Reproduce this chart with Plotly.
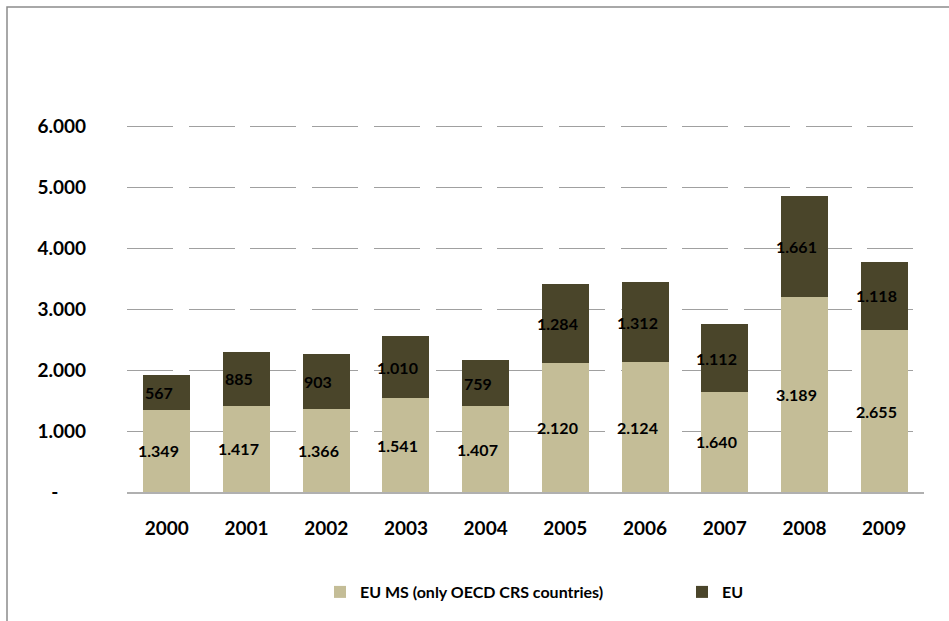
import plotly.graph_objects as go

years = ["2000", "2001", "2002", "2003", "2004", "2005", "2006", "2007", "2008", "2009"]
eu_ms = [1349, 1417, 1366, 1541, 1407, 2120, 2124, 1640, 3189, 2655]
eu = [567, 885, 903, 1010, 759, 1284, 1312, 1112, 1661, 1118]
tick_vals = [0, 1000, 2000, 3000, 4000, 5000, 6000]
tick_text = ["-\u00a0\u00a0\u00a0\u00a0\u00a0\u00a0", "1.000", "2.000", "3.000", "4.000", "5.000", "6.000"]
y_max = 7000
series_names = ["EU MS (only OECD CRS countries)", "EU"]

LIGHT = "#C4BD97"
DARK = "#4A452A"
FONT = "Lato"

def fmt(v):
    return f"{v:,}".replace(",", ".")

fig = go.Figure()
fig.add_trace(go.Bar(x=years, y=eu_ms, name=series_names[0], marker_color=LIGHT,
                     marker_line_width=0, legend="legend"))
fig.add_trace(go.Bar(x=years, y=eu, name=series_names[1], marker_color=DARK,
                     marker_line_width=0, legend="legend2"))

lab_font = dict(family=FONT, size=16, color="black", weight="bold")
annotations = []
for i, (a, b) in enumerate(zip(eu_ms, eu)):
    annotations.append(dict(x=i, y=a / 2, text=fmt(a), showarrow=False, xshift=-8, font=lab_font))
    annotations.append(dict(x=i, y=a + b / 2, text=fmt(b), showarrow=False, xshift=-8, font=lab_font))

L, R, T, B = 127, 25, 65, 129
W, H = 949, 621
pw = W - L - R
ph = H - T - B

def px_x(p):
    return (p - L) / pw

def px_y(p):
    return (H - B - p) / ph

leg_font = dict(family=FONT, size=16, color="black", weight="bold")
fig.update_layout(
    width=W, height=H,
    margin=dict(l=L, r=R, t=T, b=B, autoexpand=False),
    barmode="stack",
    bargap=0.41,
    plot_bgcolor="white",
    paper_bgcolor="white",
    font=dict(family=FONT, size=19, color="black", weight="bold"),
    showlegend=True,
    legend=dict(orientation="h", x=px_x(320), xanchor="left", y=px_y(592), yanchor="middle",
                font=leg_font, bgcolor="rgba(0,0,0,0)"),
    legend2=dict(orientation="h", x=px_x(682), xanchor="left", y=px_y(592), yanchor="middle",
                 font=leg_font, bgcolor="rgba(0,0,0,0)"),
    annotations=annotations,
    shapes=[dict(type="rect", xref="paper", yref="paper",
                 x0=px_x(7), x1=px_x(980), y0=px_y(660), y1=px_y(7),
                 line=dict(color="#8c8c8c", width=1.5), fillcolor="rgba(0,0,0,0)", layer="below")],
)
fig.update_xaxes(
    type="category", range=[-0.5, len(years) - 0.5], autorange=False,
    showgrid=False, showline=True, linecolor="#b0b0b0", linewidth=2,
    ticks="", ticklabelstandoff=18,
    tickfont=dict(family=FONT, size=19, color="black", weight="bold"),
)
fig.update_yaxes(
    range=[0, y_max], autorange=False, tickvals=tick_vals, ticktext=tick_text,
    showgrid=True, gridcolor="#a0a0a0", gridwidth=1, griddash="46px,15.7px",
    zeroline=False, showline=False, ticks="", ticklabelstandoff=40,
    tickfont=dict(family=FONT, size=19, color="black", weight="bold"),
)

fig.write_html("out.html", config={"displayModeBar": False},
               post_script="document.body.style.margin='0';")
